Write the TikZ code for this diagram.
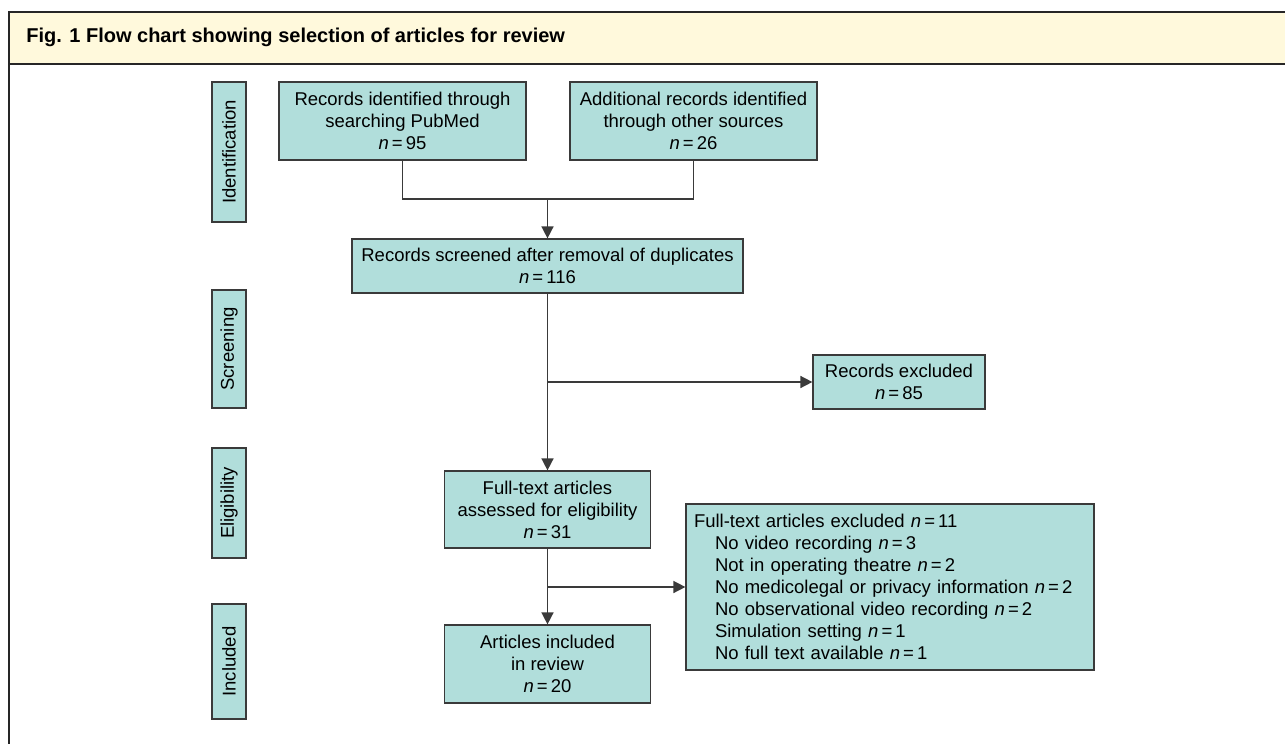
\documentclass[tikz,border=0pt]{standalone}
\usepackage{fontspec}
\setmainfont{Liberation Sans}
\usetikzlibrary{arrows.meta}
\definecolor{boxfill}{HTML}{B1DEDB}
\definecolor{headfill}{HTML}{FFF9DC}
\definecolor{edge}{HTML}{3A3A3A}
\newcommand{\ncount}[1]{\textit{n}\,=\,#1}

\begin{document}
\begin{tikzpicture} [ x=0.5pt, y=-0.5pt,
    box/.style={draw=edge, fill=boxfill, line width=0.6pt, inner sep=0pt,
      align=center, font=\fontsize{9.25}{11}\selectfont},
    tab/.style={box, rotate=90, minimum height=17pt},
    link/.style={draw=edge, line width=0.75pt},
    arr/.style={link, -{Triangle[length=6pt,width=6pt]}},
  ]
    \useasboundingbox (0,0) rectangle (1285,744);

    % frame and title band
    \fill[headfill] (9,12) rectangle (1285,64);
    \draw[line width=1.1pt, black!85] (1285,12) -- (9,12) -- (9,744)
    (9,64) -- (1285,64);
    \node[anchor=west, inner sep=0pt, font=\fontsize{10}{12}\bfseries] (title) at (26,37)
      {Fig. 1 Flow chart showing selection of articles for review};

    % stage tabs
    \node[tab, minimum width=70pt] (tabid) at (229,152) {Identification};
    \node[tab, minimum width=59pt] (tabscr) at (229,349) {Screening};
    \node[tab, minimum width=55pt] (tabelig) at (229,503) {Eligibility};
    \node[tab, minimum width=57.5pt] (tabincl) at (229,661.5) {Included};

    % boxes
    \node[box, minimum width=123.5pt, minimum height=39pt] (box1) at (402.5,121)
      {Records identified through\\searching PubMed\\\ncount{95}};
    \node[box, minimum width=123.5pt, minimum height=39pt] (box2) at (693.5,121)
      {Additional records identified\\through other sources\\\ncount{26}};
    \node[box, minimum width=195.5pt, minimum height=27pt] (box3) at (547.5,266)
      {Records screened after removal of duplicates\\\ncount{116}};
    \node[box, minimum width=86pt, minimum height=27pt] (excl1) at (899,382)
      {Records excluded\\\ncount{85}};
    \node[box, minimum width=103pt, minimum height=38.5pt] (box4) at (547.5,509.5)
      {Full-text articles\\assessed for eligibility\\\ncount{31}};
    \node[box, minimum width=103pt, minimum height=39pt] (box5) at (547.5,664)
      {Articles included\\in review\\\ncount{20}};
    \node[box, align=left, text width=196pt, inner xsep=4pt, minimum height=83pt]
      (excl2) at (890,587)
      {Full-text articles excluded \ncount{11}\\
       \hspace*{10.5pt}No video recording \ncount{3}\\
       \hspace*{10.5pt}Not in operating theatre \ncount{2}\\
       \hspace*{10.5pt}No medicolegal or privacy information \ncount{2}\\
       \hspace*{10.5pt}No observational video recording \ncount{2}\\
       \hspace*{10.5pt}Simulation setting \ncount{1}\\
       \hspace*{10.5pt}No full text available \ncount{1}};

    % connectors
    \coordinate (join) at (547.5,199);
    \coordinate (br1) at (547.5,382);
    \coordinate (br2) at (547.5,587);
    \draw[link] (box1.south) |- (join) -| (box2.south);
    \draw[arr] (join) -- (box3.north);
    \draw[arr] (box3.south) -- (box4.north);
    \draw[arr] (br1) -- (excl1.west);
    \draw[arr] (box4.south) -- (box5.north);
    \draw[arr] (br2) -- (excl2.west);

\end{tikzpicture}
\end{document}
